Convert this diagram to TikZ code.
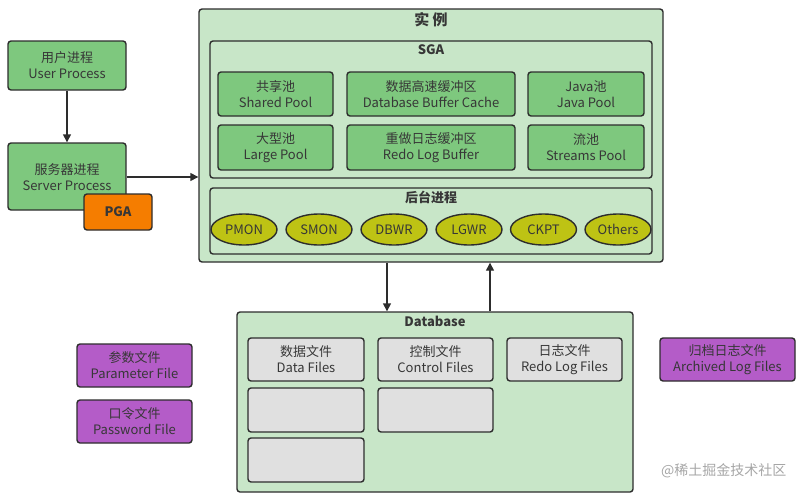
\documentclass[tikz,border=0pt]{standalone}
\usepackage{fontspec}
\setmainfont{Noto Sans CJK SC}
\usetikzlibrary{arrows.meta,shapes.geometric}
\definecolor{lightg}{RGB}{200,230,200}
\definecolor{midg}{RGB}{126,200,126}
\definecolor{olive}{RGB}{190,195,20}
\definecolor{pga}{RGB}{245,125,0}
\definecolor{purp}{RGB}{180,92,200}
\definecolor{grayb}{RGB}{224,224,224}
\definecolor{txt}{RGB}{55,55,55}
\definecolor{edge}{RGB}{45,45,45}
\tikzset{
  box/.style={draw=edge,line width=1.4pt,rounded corners=3pt,text=txt,align=center,inner sep=0pt,
    font=\fontsize{13}{16}\selectfont},
  greenbox/.style={box,fill=midg},
  graybox/.style={box,fill=grayb},
  purpbox/.style={box,fill=purp},
  container/.style={draw=edge,line width=1.4pt,rounded corners=3pt},
  ell/.style={draw=edge,line width=1.4pt,ellipse,fill=olive,text=txt,inner sep=0pt,
    minimum width=66pt,minimum height=31pt,font=\fontsize{13}{15}\selectfont},
  ttl/.style={text=txt,font=\fontsize{13}{15}\selectfont\bfseries},
  arr/.style={draw=edge,line width=1.4pt,-{Triangle[length=8pt,width=8pt]}}
}
\begin{document}
\begin{tikzpicture}[x=1pt,y=-1pt]
\useasboundingbox (0,0) rectangle (802,498);
% instance
\node[container,fill=lightg,minimum width=464pt,minimum height=253pt] (inst) at (431,135.5) {};
\node[ttl,font=\fontsize{15}{17}\selectfont\bfseries] (instt) at (431,20) {实 例};
\node[container,fill=lightg,minimum width=442pt,minimum height=137pt] (sga) at (431,109.5) {};
\node[ttl] (sgat) at (431,50) {SGA};
\node[greenbox,minimum width=115pt,minimum height=44pt] (shared) at (275.5,94) {共享池\\Shared Pool};
\node[greenbox,minimum width=168pt,minimum height=44pt] (dbbc) at (431,94) {数据高速缓冲区\\Database Buffer Cache};
\node[greenbox,minimum width=116pt,minimum height=44pt] (java) at (586,94) {Java池\\Java Pool};
\node[greenbox,minimum width=115pt,minimum height=45pt] (large) at (275.5,147.5) {大型池\\Large Pool};
\node[greenbox,minimum width=168pt,minimum height=45pt] (redo) at (431,147.5) {重做日志缓冲区\\Redo Log Buffer};
\node[greenbox,minimum width=116pt,minimum height=45pt] (streams) at (586,147.5) {流池\\Streams Pool};
\node[container,fill=lightg,minimum width=442pt,minimum height=66pt] (bg) at (431,221) {};
\node[ttl] (bgt) at (431,197) {后台进程};
\node[ell] (pmon) at (244,229.5) {PMON};
\node[ell] (smon) at (319,229.5) {SMON};
\node[ell] (dbwr) at (394,229.5) {DBWR};
\node[ell] (lgwr) at (469,229.5) {LGWR};
\node[ell] (ckpt) at (543.5,229.5) {CKPT};
\node[ell] (others) at (618,229.5) {Others};
% processes
\node[greenbox,minimum width=118pt,minimum height=49pt] (user) at (67,65.5) {用户进程\\User Process};
\node[greenbox,minimum width=118pt,minimum height=67pt] (server) at (67,176.5) {};
\node[text=txt,align=center,font=\fontsize{13}{16}\selectfont] (servert) at (67,177) {服务器进程\\Server Process};
\node[box,fill=pga,minimum width=68pt,minimum height=36pt,font=\fontsize{13}{15}\selectfont\bfseries] (pgan) at (118,212) {PGA};
\draw[arr] (user.south) -- (server.north);
\draw[arr] (server.east |- 0,177) -- (inst.west |- 0,177);
% database
\node[container,fill=lightg,minimum width=396pt,minimum height=180pt] (db) at (435,402) {};
\node[ttl] (dbt) at (435,321) {Database};
\draw[arr] (inst.south -| 387,0) -- (db.north -| 387,0);
\draw[arr] (db.north -| 490,0) -- (inst.south -| 490,0);
\node[graybox,minimum width=116pt,minimum height=43pt] (data) at (306,359.5) {数据文件\\Data Files};
\node[graybox,minimum width=115pt,minimum height=43pt] (ctrl) at (435.5,359.5) {控制文件\\Control Files};
\node[graybox,minimum width=115pt,minimum height=43pt] (redof) at (564.5,359.5) {日志文件\\Redo Log Files};
\node[graybox,minimum width=116pt,minimum height=44pt] (data2) at (306,410) {};
\node[graybox,minimum width=115pt,minimum height=44pt] (ctrl2) at (435.5,410) {};
\node[graybox,minimum width=116pt,minimum height=44pt] (data3) at (306,460) {};
% outer files
\node[purpbox,minimum width=115pt,minimum height=43pt] (param) at (134.5,365.5) {参数文件\\Parameter File};
\node[purpbox,minimum width=115pt,minimum height=43pt] (pwd) at (134.5,421.5) {口令文件\\Password File};
\node[purpbox,minimum width=135pt,minimum height=43pt] (arch) at (727.5,359.5) {归档日志文件\\Archived Log Files};
\node[text=black!35,font=\fontsize{14}{16}\selectfont,anchor=east] (wm) at (790,471) {@稀土掘金技术社区};
\end{tikzpicture}
\end{document}
